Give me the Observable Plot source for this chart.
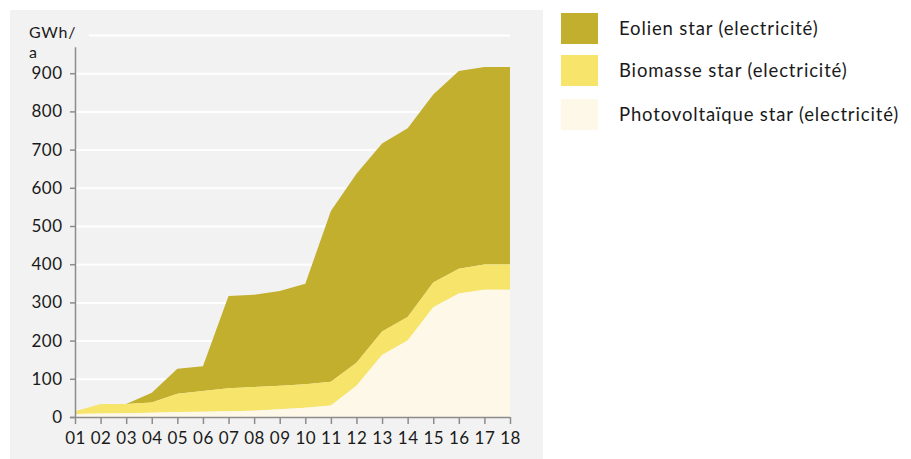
<!DOCTYPE html>
<html>
<head>
<meta charset="utf-8">
<script src="https://cdn.jsdelivr.net/npm/d3@7"></script>
<script src="https://cdn.jsdelivr.net/npm/@observablehq/plot@0.6"></script>
<style>
  html, body { margin: 0; padding: 0; background: #ffffff; }
  body { width: 911px; height: 459px; position: relative; overflow: hidden; font-family: Lato, "Open Sans", sans-serif; color: #1a1a1a; }
  #panel { position: absolute; left: 10px; top: 10px; width: 533px; height: 449px; background: #f2f2f2; }
  #chart { position: absolute; left: 0; top: 0; }
  .unit { position: absolute; left: 29px; font-size: 16px; line-height: 13px; height: 13px; letter-spacing: 0.7px; }
  #legend { position: absolute; left: 561px; top: 13px; }
  .item { position: absolute; left: 0; width: 345px; height: 31px; }
  .sw { position: absolute; left: 0; top: 0; width: 37px; height: 31px; }
  .lab { position: absolute; left: 58px; top: 0; line-height: 31px; font-size: 18.5px; letter-spacing: 0.85px; white-space: nowrap; }
</style>
</head>
<body>
<div id="panel"></div>
<div id="chart"></div>
<div class="unit" style="top:25px">GWh/</div>
<div class="unit" style="top:45px">a</div>
<div id="legend"></div>
<script>
const years = [1,2,3,4,5,6,7,8,9,10,11,12,13,14,15,16,17,18];
const yearLabels = ["01","02","03","04","05","06","07","08","09","10","11","12","13","14","15","16","17","18"];
const seriesNames = ["Eolien star (electricité)", "Biomasse star (electricité)", "Photovoltaïque star (electricité)"];
const seriesColors = ["#c2af2e", "#f6e56a", "#fdf8e7"];
// Values (GWh/a) per series, not cumulative
const photovoltaique = [8, 9, 10, 11, 13, 14, 15, 16.5, 20, 24, 30, 82, 162, 200, 287, 323, 333, 333];
const biomasse =       [7, 25, 24, 27, 48, 54, 60, 62, 62, 61.5, 62, 60, 62, 62, 65, 65, 66.5, 66.5];
const eolien =         [0, 0, 0, 25.6, 65, 65, 242, 241.5, 248, 263.5, 447, 495, 492, 494, 492, 518, 516.5, 516.5];
const yTicks = [0,100,200,300,400,500,600,700,800,900];
const gridTicks = [100,200,300,400,500,600,700,800,900,1000];

const data = [];
const seriesValues = [eolien, biomasse, photovoltaique];
seriesNames.forEach((s, i) => years.forEach((yr, j) => data.push({year: yr, series: s, value: seriesValues[i][j]})));

const chart = Plot.plot({
  width: 543,
  height: 459,
  marginLeft: 75,
  marginRight: 33,
  marginTop: 35,
  marginBottom: 42,
  style: {background: "transparent", fontFamily: "Lato, 'Open Sans', sans-serif", fontSize: "17px", color: "#1a1a1a", letterSpacing: "0.5px"},
  x: {type: "linear", domain: [1, 18]},
  y: {domain: [0, 1000]},
  color: {domain: seriesNames, range: seriesColors},
  marks: [
    Plot.ruleY(gridTicks.slice(0, -1), {stroke: "#ffffff", strokeWidth: 2}),
    Plot.ruleY(gridTicks.slice(-1), {x1: 1.55, x2: 18, stroke: "#ffffff", strokeWidth: 2}),
    Plot.areaY(data, {x: "year", y: "value", z: "series", fill: "series", order: [seriesNames[2], seriesNames[1], seriesNames[0]]}),
    Plot.ruleX([1], {y1: 0, y2: 968, stroke: "#8c8c8c", strokeWidth: 1.5}),
    Plot.ruleY([0], {x1: 0.8, x2: 18, stroke: "#8c8c8c", strokeWidth: 1.5}),
    Plot.axisX(years, {tickSize: 7, tickPadding: 7, stroke: "#8c8c8c", strokeWidth: 1.5, tickFormat: (d, i) => yearLabels[i], label: null, fill: "#1a1a1a"}),
    Plot.axisY(yTicks, {tickSize: 5, tickPadding: 8, stroke: "#8c8c8c", strokeWidth: 1.5, label: null, fill: "#1a1a1a"})
  ]
});
document.getElementById("chart").appendChild(chart);

const legend = document.getElementById("legend");
const tops = [0, 42, 86];
seriesNames.forEach((s, i) => {
  const it = document.createElement("div");
  it.className = "item";
  it.style.top = tops[i] + "px";
  it.innerHTML = `<div class="sw" style="background:${seriesColors[i]}"></div><div class="lab">${s}</div>`;
  legend.appendChild(it);
});
</script>
</body>
</html>
